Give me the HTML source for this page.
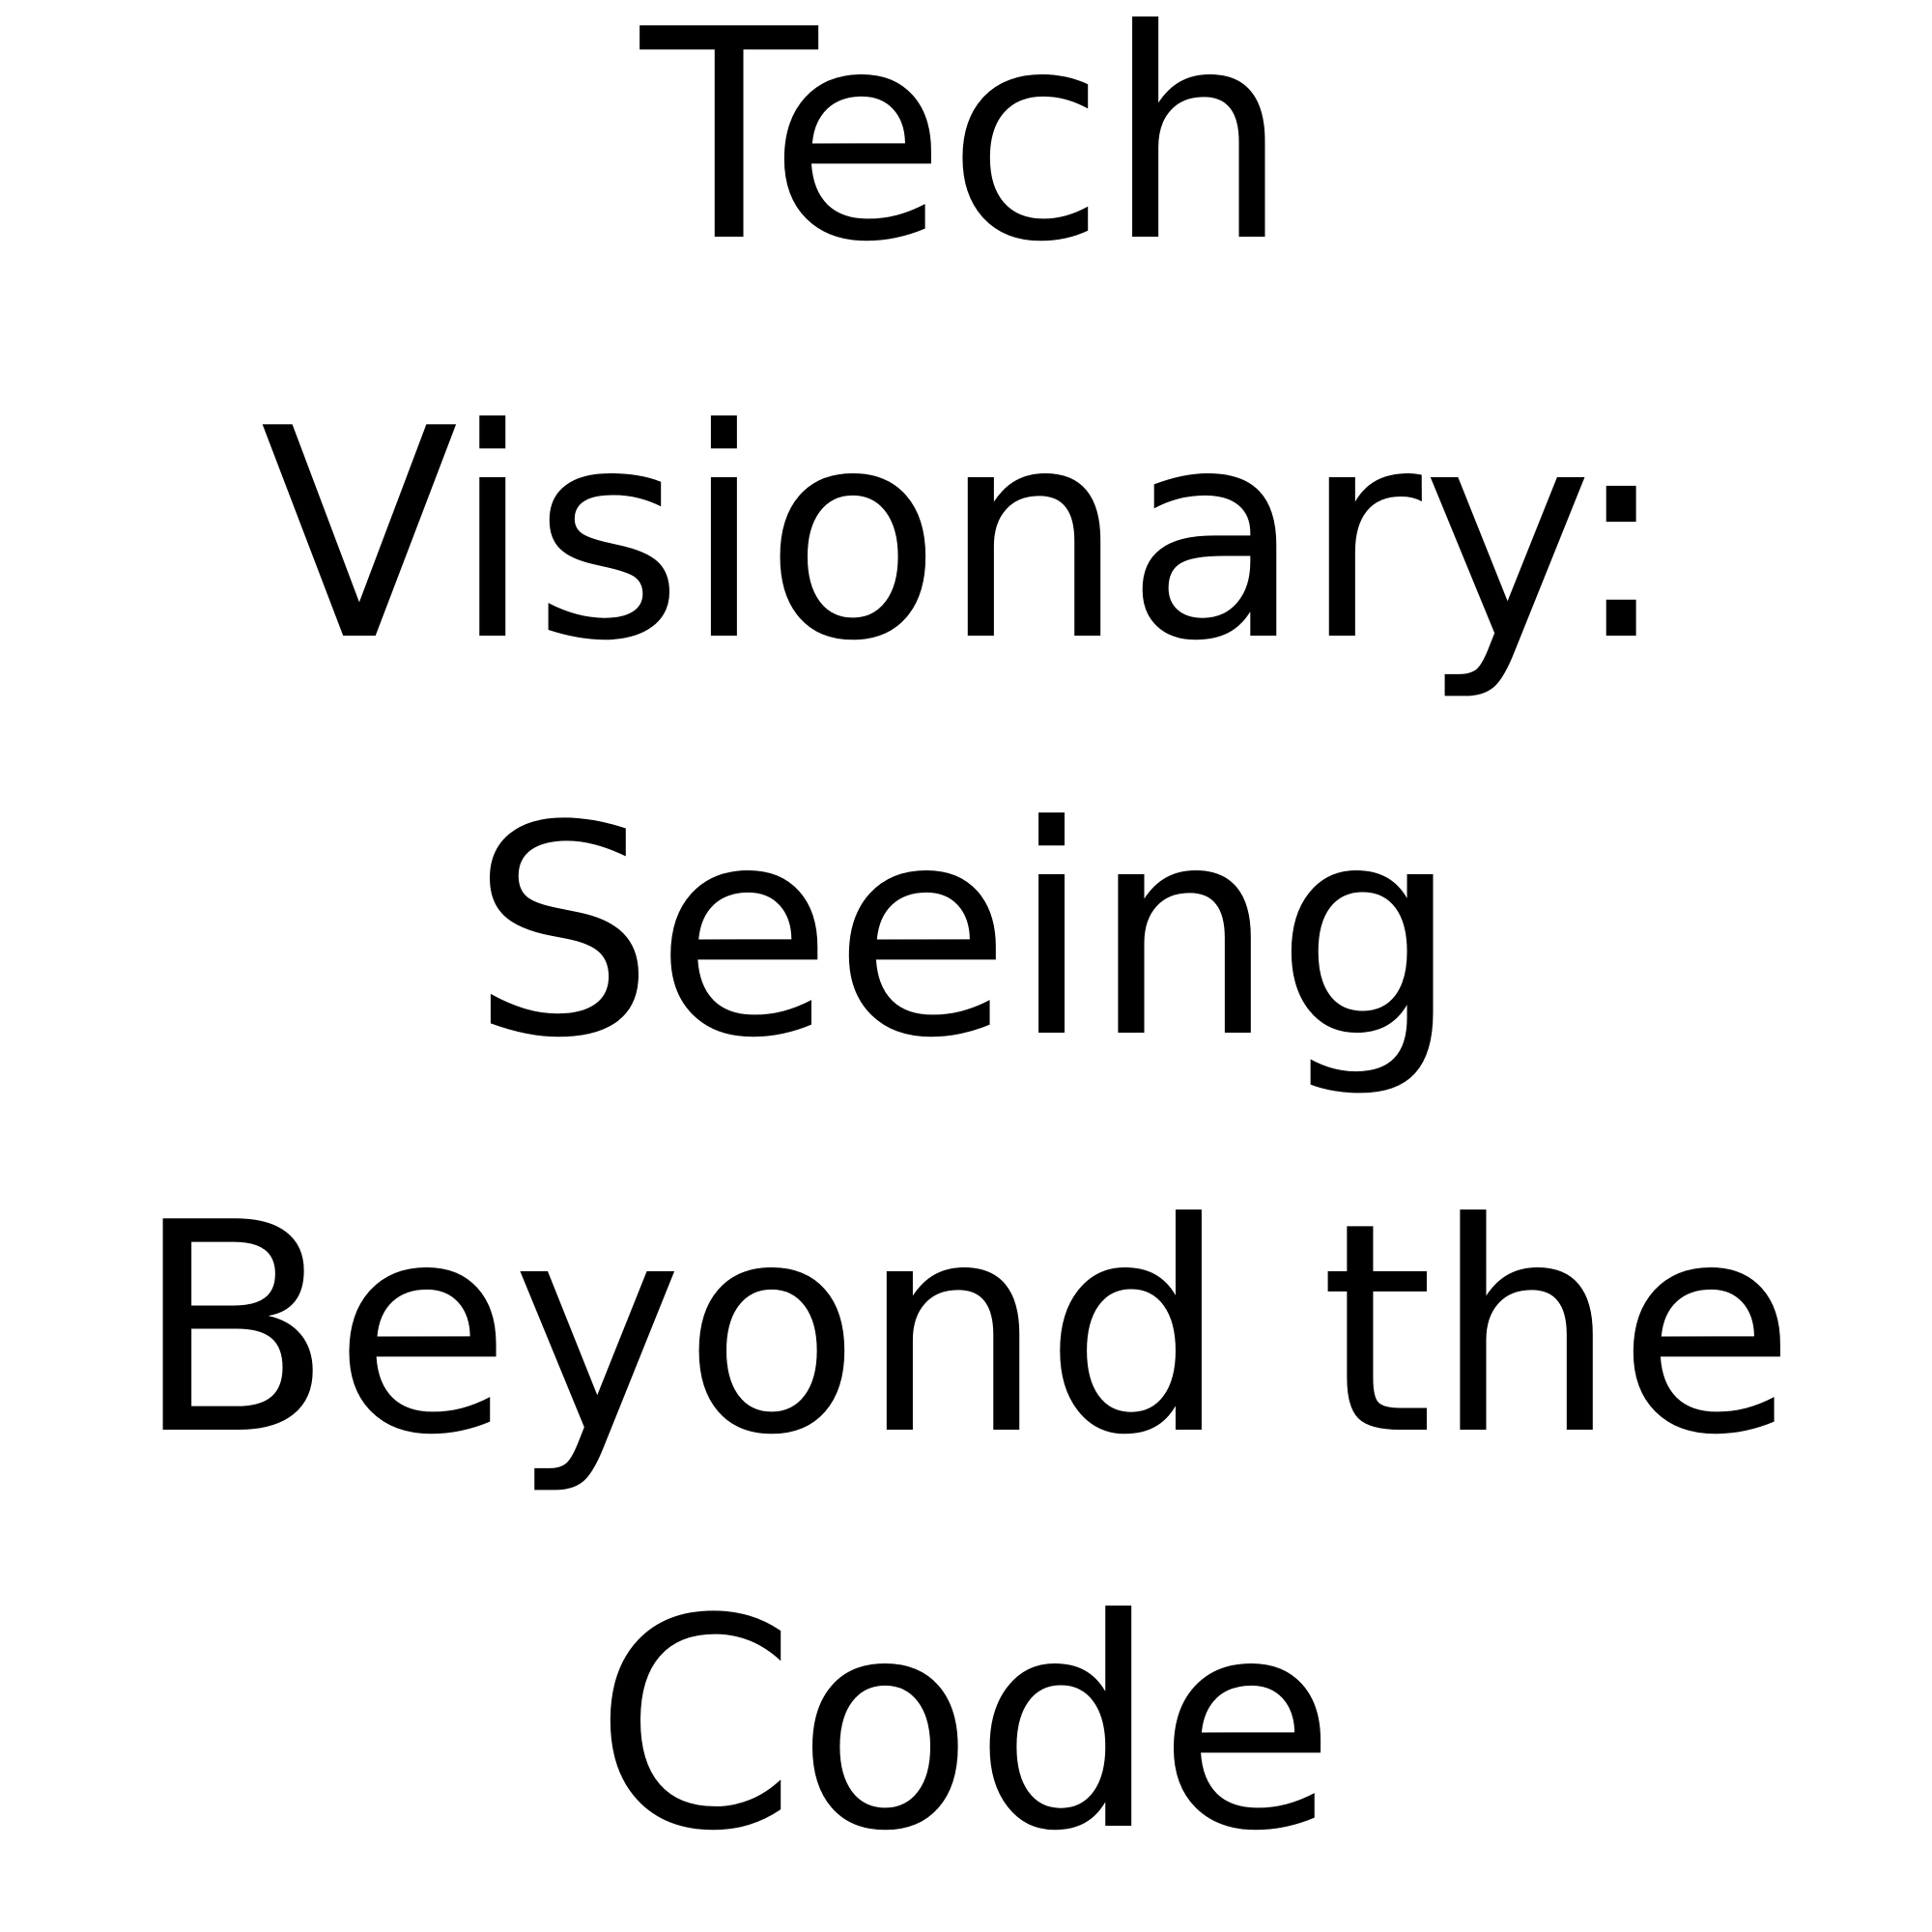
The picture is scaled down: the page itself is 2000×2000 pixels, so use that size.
<!DOCTYPE html>
<html>
<head>
<meta charset="utf-8">
<style>
html,body{margin:0;padding:0;background:#fff;width:2000px;height:2000px;overflow:hidden;}
svg{display:block;}
text{font-family:"DejaVu Sans","Liberation Sans",sans-serif;font-size:300px;fill:#000;}
</style>
</head>
<body>
<svg width="2000" height="2000" viewBox="0 0 2000 2000">
<rect width="2000" height="2000" fill="#fff"/>
<g text-anchor="middle">
<text x="999" y="245">Tech</text>
<text x="999" y="658">Visionary:</text>
<text x="999" y="1069">Seeing</text>
<text x="999" y="1480">Beyond the</text>
<text x="999" y="1890">Code</text>
</g>
</svg>
</body>
</html>
